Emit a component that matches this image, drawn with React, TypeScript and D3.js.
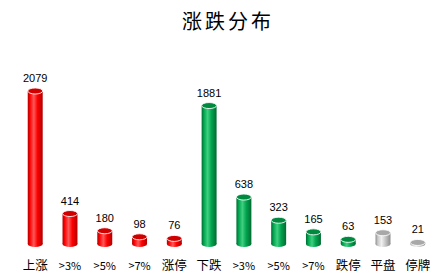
import React from "react";
import * as d3 from "d3";

const categories = ["上涨", ">3%", ">5%", ">7%", "涨停", "下跌", ">3%", ">5%", ">7%", "跌停", "平盘", "停牌"];
const values = [2079, 414, 180, 98, 76, 1881, 638, 323, 165, 63, 153, 21];
const groups = ["up", "up", "up", "up", "up", "down", "down", "down", "down", "down", "flat", "flat"];

const W = 435;
const H = 277;

const palette: Record<string, { dark: string; mid: string; light: string; cap: string }> = {
  up: { dark: "#b00000", mid: "#ff0000", light: "#ff5a5a", cap: "#d00000" },
  down: { dark: "#006b30", mid: "#00a550", light: "#3fd07f", cap: "#008a40" },
  flat: { dark: "#8c8c8c", mid: "#c8c8c8", light: "#f0f0f0", cap: "#a8a8a8" },
};

export default function App() {
  const x = d3.scaleBand<number>().domain(d3.range(categories.length)).range([18, 435]).paddingInner(0.57).paddingOuter(0.28);
  const y = d3.scaleLinear().domain([0, 2500]).range([244, 60]);
  const bw = x.bandwidth();
  const ry = 3;
  return (
    <svg width={W} height={H} style={{ display: "block", position: "absolute", left: 0, top: 0 }}>
      <defs>
        {Object.entries(palette).map(([k, p]) => (
          <linearGradient key={k} id={`g-${k}`} x1="0" x2="1" y1="0" y2="0">
            <stop offset="0" stopColor={p.dark} />
            <stop offset="0.15" stopColor={p.mid} />
            <stop offset="0.4" stopColor={p.light} />
            <stop offset="0.65" stopColor={p.mid} />
            <stop offset="1" stopColor={p.dark} />
          </linearGradient>
        ))}
      </defs>
      <rect width={W} height={H} fill="#fff" />
      <text x={228} y={29} textAnchor="middle" fontFamily="'Noto Sans CJK SC'" fontSize={20} letterSpacing={3} fill="#000">
        涨跌分布
      </text>
      {values.map((v, i) => {
        const x0 = x(i)!;
        const cx = x0 + bw / 2;
        const yt = y(v);
        const yb = y(0);
        const g = groups[i];
        return (
          <g key={i}>
            <ellipse cx={cx} cy={yb} rx={bw / 2} ry={ry} fill={`url(#g-${g})`} />
            <rect x={x0} y={yt} width={bw} height={yb - yt} fill={`url(#g-${g})`} />
            <ellipse cx={cx} cy={yt} rx={bw / 2} ry={ry} fill={palette[g].cap} stroke="#ffffff" strokeOpacity={0.85} strokeWidth={1} />
            <text x={cx} y={yt - ry - 6} textAnchor="middle" fontFamily="'Liberation Sans', Arial" fontSize={11} fill="#000">
              {v}
            </text>
            <text
              x={cx}
              y={270}
              textAnchor="middle"
              fontFamily="'Noto Sans CJK SC'"
              fontSize={categories[i].startsWith(">") ? 11 : 12.5}
              fill="#000"
            >
              {categories[i]}
            </text>
          </g>
        );
      })}
    </svg>
  );
}
